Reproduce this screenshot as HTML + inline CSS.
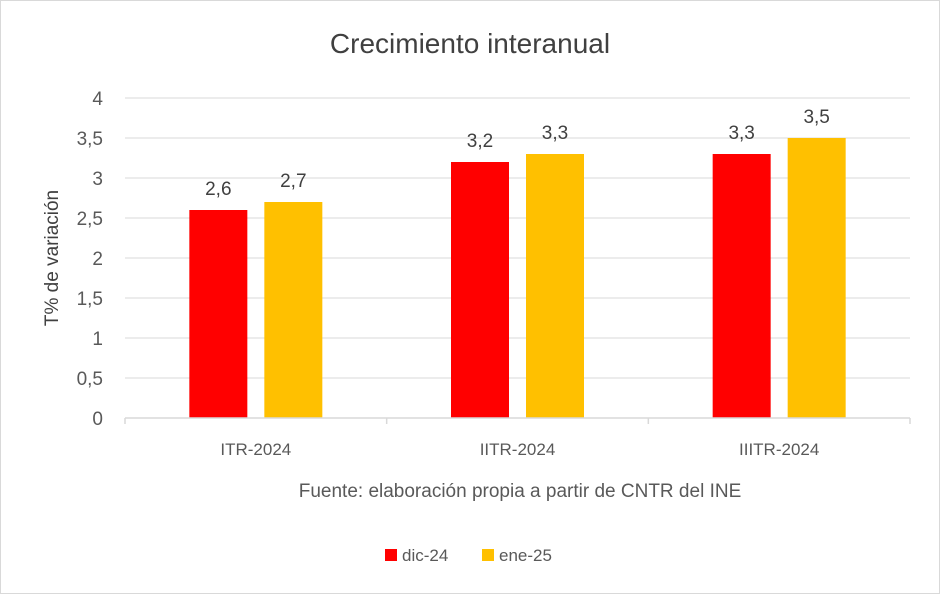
<!DOCTYPE html>
<html><head><meta charset="utf-8"><style>
body{margin:0;background:#fff}
svg{display:block;font-family:"Liberation Sans",sans-serif}
</style></head><body>
<svg id="chart" width="940" height="594" viewBox="0 0 940 594">
<rect x="0.5" y="0.5" width="939" height="593" fill="#fff" stroke="#d9d9d9"/>
<text x="470" y="53" text-anchor="middle" font-size="28" fill="#404040">Crecimiento interanual</text>
<text transform="translate(58,258) rotate(-90)" text-anchor="middle" font-size="19" fill="#404040">T% de variación</text>
<text x="520" y="497" text-anchor="middle" font-size="19" fill="#595959">Fuente: elaboración propia a partir de CNTR del INE</text>
<g id="grid"></g><g id="bars"></g><g id="axes"></g>
<g>
<rect x="385" y="549" width="12" height="12" fill="#ff0000"/>
<text x="402" y="561" font-size="17" fill="#595959">dic-24</text>
<rect x="482" y="549" width="12" height="12" fill="#ffc000"/>
<text x="499" y="561" font-size="17" fill="#595959">ene-25</text>
</g>
</svg>
<script>
const categories=["ITR-2024","IITR-2024","IIITR-2024"];
const dic24=[2.6,3.2,3.3];
const ene25=[2.7,3.3,3.5];
const yTicks=[0,0.5,1,1.5,2,2.5,3,3.5,4];
const seriesColors=["#ff0000","#ffc000"];
const NS="http://www.w3.org/2000/svg";
const x0=125,x1=910,y0=418,yTop=98,yMax=4;
const y=v=>y0-(y0-yTop)*v/yMax;
const band=(x1-x0)/categories.length;
const cx=i=>x0+band*(i+0.5);
function mk(t,a,p){const e=document.createElementNS(NS,t);for(const k in a)e.setAttribute(k,a[k]);p.appendChild(e);return e;}
const grid=document.getElementById('grid'),bars=document.getElementById('bars'),axes=document.getElementById('axes');
yTicks.forEach(v=>{
 if(v>0){const l=mk('line',{x1:x0,x2:x1,y1:y(v),y2:y(v),stroke:'#d9d9d9','stroke-width':1},grid);
 
 }
 const t=mk('text',{x:103,y:y(v)+7,'text-anchor':'end','font-size':19,fill:'#595959'},axes);
 t.textContent=String(v).replace('.',',');
 
 
});
const ax=mk('line',{x1:x0,x2:x1,y1:y0,y2:y0,stroke:'#d9d9d9','stroke-width':1.5},axes);


for(let i=0;i<=categories.length;i++){const tk=mk('line',{x1:x0+band*i,x2:x0+band*i,y1:y0,y2:y0+6,stroke:'#d9d9d9','stroke-width':1.5},axes);
 
 }
const bw=58,gap=17;
categories.forEach((c,i)=>{
 const t=mk('text',{x:cx(i),y:455,'text-anchor':'middle','font-size':17,fill:'#595959'},axes);
 t.textContent=c;
 
 
 [dic24,ene25].forEach((s,j)=>{
  const bx=cx(i)-bw-gap/2+j*(bw+gap);
  const r=mk('rect',{x:bx,y:y(s[i]),width:bw,height:y0-y(s[i]),fill:seriesColors[j]},bars);
  
  
  const lb=mk('text',{x:bx+bw/2,y:y(s[i])-15,'text-anchor':'middle','font-size':19,fill:'#404040'},bars);
  lb.textContent=String(s[i]).replace('.',',');
  
  
 });
});
</script>
</body></html>
